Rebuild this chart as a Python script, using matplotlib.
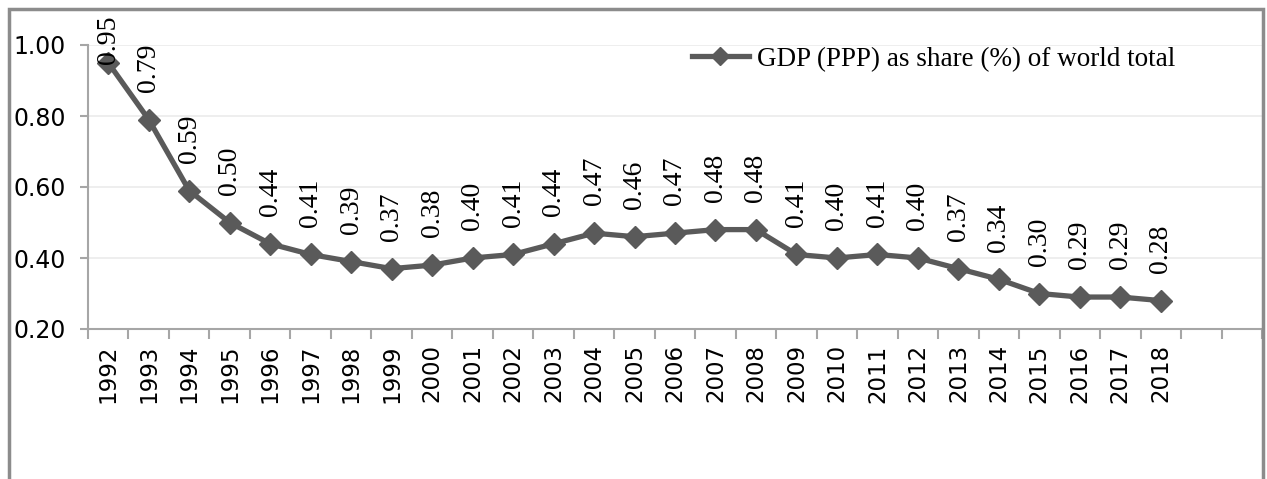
import matplotlib.pyplot as plt
from matplotlib.patches import Rectangle
import numpy as np

years = [str(y) for y in range(1992, 2019)]
share = [0.95, 0.79, 0.59, 0.50, 0.44, 0.41, 0.39, 0.37, 0.38, 0.40, 0.41, 0.44, 0.47,
         0.46, 0.47, 0.48, 0.48, 0.41, 0.40, 0.41, 0.40, 0.37, 0.34, 0.30, 0.29, 0.29, 0.28]
yticks = [0.20, 0.40, 0.60, 0.80, 1.00]
n_slots = 29  # the category axis has two empty slots after 2018

W, H = 1267, 479
fig = plt.figure(figsize=(W / 100, H / 100), dpi=100)
ax = fig.add_axes([88 / W, 1 - 329 / H, (1262 - 88) / W, (329 - 45) / H])

line_col = '#5a5a5a'
x = np.arange(len(share))
ax.plot(x, share, color=line_col, lw=3.8, marker='D', ms=11.5,
        label='GDP (PPP) as share (%) of world total', zorder=3)

ax.set_xlim(-0.5, n_slots - 0.5)
ax.set_ylim(0.2, 1.0)
ax.set_yticks(yticks)
ax.set_yticklabels([f'{v:.2f}' for v in yticks], family='DejaVu Sans', fontsize=17)
ax.yaxis.grid(True, color='#ebebeb', lw=1.2)
ax.set_axisbelow(True)

# category boundaries as ticks, labels at centres
ax.set_xticks(np.arange(n_slots + 1) - 0.5)
ax.set_xticklabels([])
ax.set_xticks(x, minor=True)
ax.set_xticklabels(years, minor=True, rotation=90, family='DejaVu Sans', fontsize=16.5)
ax.tick_params(axis='x', which='minor', length=0, pad=11)
ax.tick_params(axis='x', which='major', length=7, color='#a6a6a6', width=1.5)
ax.tick_params(axis='y', length=6, color='#a6a6a6', width=1.5, pad=10)

for s in ['top', 'right']:
    ax.spines[s].set_visible(False)
for s in ['left', 'bottom']:
    ax.spines[s].set_color('#a6a6a6')
    ax.spines[s].set_linewidth(1.5)

# data labels, rotated, above each point
labels = []
for xi, v in zip(x, share):
    t = ax.annotate(f'{v:.2f}', (xi, v), xytext=(0, 20), textcoords='offset points',
                    rotation=90, ha='center', va='bottom', family='Liberation Serif',
                    fontsize=20, annotation_clip=False)
    labels.append(t)

ax.legend(loc='upper right', bbox_to_anchor=(1186 / W, 1 - 36 / H),
          bbox_transform=fig.transFigure, frameon=False,
          prop={'family': 'Liberation Serif', 'size': 19.5},
          handlelength=2.1, handletextpad=0.3, borderaxespad=0, markerscale=0.8)

# keep labels inside the figure (like the spreadsheet does)
fig.canvas.draw()
r = fig.canvas.get_renderer()
for t in labels:
    bb = t.get_window_extent(r)
    top_lim = H - 16
    if bb.y1 > top_lim:
        dy = (bb.y1 - top_lim) * 72 / 100
        ox, oy = t.xyann
        t.xyann = (ox, oy - dy)

# outer chart frame
fig.patches.append(Rectangle((9 / W, -0.2), (1263 - 9) / W, 1.2 - 9 / H,
                             transform=fig.transFigure, fill=False,
                             edgecolor='#8c8c8c', lw=2.5))

fig.savefig('out.png', dpi=100)
